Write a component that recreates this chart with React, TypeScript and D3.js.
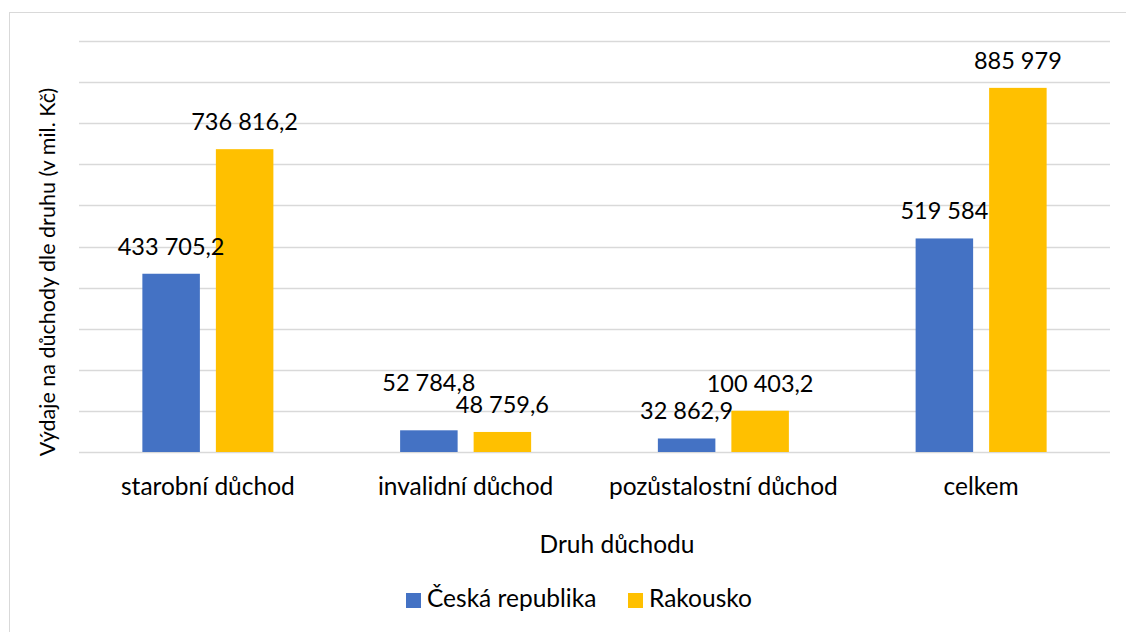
import React from 'react';
import * as d3 from 'd3';

// kategorie a hodnoty (v mil. Kč)
const categories = ['starobní důchod', 'invalidní důchod', 'pozůstalostní důchod', 'celkem'];
const seriesNames = ['Česká republika', 'Rakousko'];
const cesko = [433705.2, 52784.8, 32862.9, 519584];
const rakousko = [736816.2, 48759.6, 100403.2, 885979];
const yTicks = [0, 100000, 200000, 300000, 400000, 500000, 600000, 700000, 800000, 900000, 1000000];

const W = 1126;
const H = 632;
const colors = ['#4472C4', '#FFC000'];
const FONT = 'Lato, "Open Sans", sans-serif';

// Excel posunul jeden popisek, aby se nepřekrýval
const labelShift: Record<string, number> = { '0-1': -20 };

const fmt = (v: number) => {
  const [i, d] = String(v).split('.');
  const int = i.replace(/\B(?=(\d{3})+(?!\d))/g, ' ');
  return d ? int + ',' + d : int;
};

export default function App() {
  const left = 79, right = 1110, top = 41, bottom = 452;

  const x0 = d3.scaleBand<string>().domain(categories).range([left, right]);
  const x1 = d3.scaleBand<string>()
    .domain(seriesNames)
    .range([0, x0.bandwidth()])
    .paddingInner(0.2177)
    .paddingOuter(0.862);
  const y = d3.scaleLinear().domain([0, 1000000]).range([bottom, top]);

  const data = [cesko, rakousko];

  return (
    <svg width={W} height={H} style={{ position: 'absolute', left: 0, top: 0, background: '#fff' }}
      fontFamily={FONT}>
      <rect x={9.5} y={12.5} width={W} height={H} fill="#fff" stroke="#d9d9d9" strokeWidth={1} />

      {/* mřížka */}
      {yTicks.map(t => (
        <line key={t} x1={left} x2={right} y1={Math.round(y(t)) + 0.5} y2={Math.round(y(t)) + 0.5}
          stroke="#d9d9d9" strokeWidth={1.3} />
      ))}

      {/* sloupce */}
      {data.map((vals, si) => vals.map((v, ci) => (
        <rect key={si + '-' + ci}
          x={x0(categories[ci])! + x1(seriesNames[si])!}
          y={y(v)}
          width={x1.bandwidth()}
          height={y(0) - y(v)}
          fill={colors[si]} />
      )))}

      {/* popisky hodnot */}
      {data.map((vals, si) => vals.map((v, ci) => (
        <text key={'l' + si + '-' + ci}
          x={x0(categories[ci])! + x1(seriesNames[si])! + x1.bandwidth() / 2}
          y={y(v) - 19 + (labelShift[si + '-' + ci] || 0)}
          textAnchor="middle" fontSize={23.5} fill="#000">
          {fmt(v)}
        </text>
      )))}

      {/* popisky kategorií */}
      {categories.map(c => (
        <text key={c} x={x0(c)! + x0.bandwidth() / 2} y={495} textAnchor="middle" fontSize={24.5} fill="#000">
          {c}
        </text>
      ))}

      {/* názvy os */}
      <text transform={`translate(55, 272) rotate(-90)`} textAnchor="middle" fontSize={21.5} fill="#000">
        Výdaje na důchody dle druhu (v mil. Kč)
      </text>
      <text x={617} y={553} textAnchor="middle" fontSize={24.5} fill="#000">Druh důchodu</text>

      {/* legenda */}
      {seriesNames.map((s, i) => {
        const lx = [406, 628][i];
        return (
          <g key={s}>
            <rect x={lx} y={593} width={15} height={15} fill={colors[i]} />
            <text x={lx + 21} y={607} fontSize={24.5} fill="#000">{s}</text>
          </g>
        );
      })}
    </svg>
  );
}
